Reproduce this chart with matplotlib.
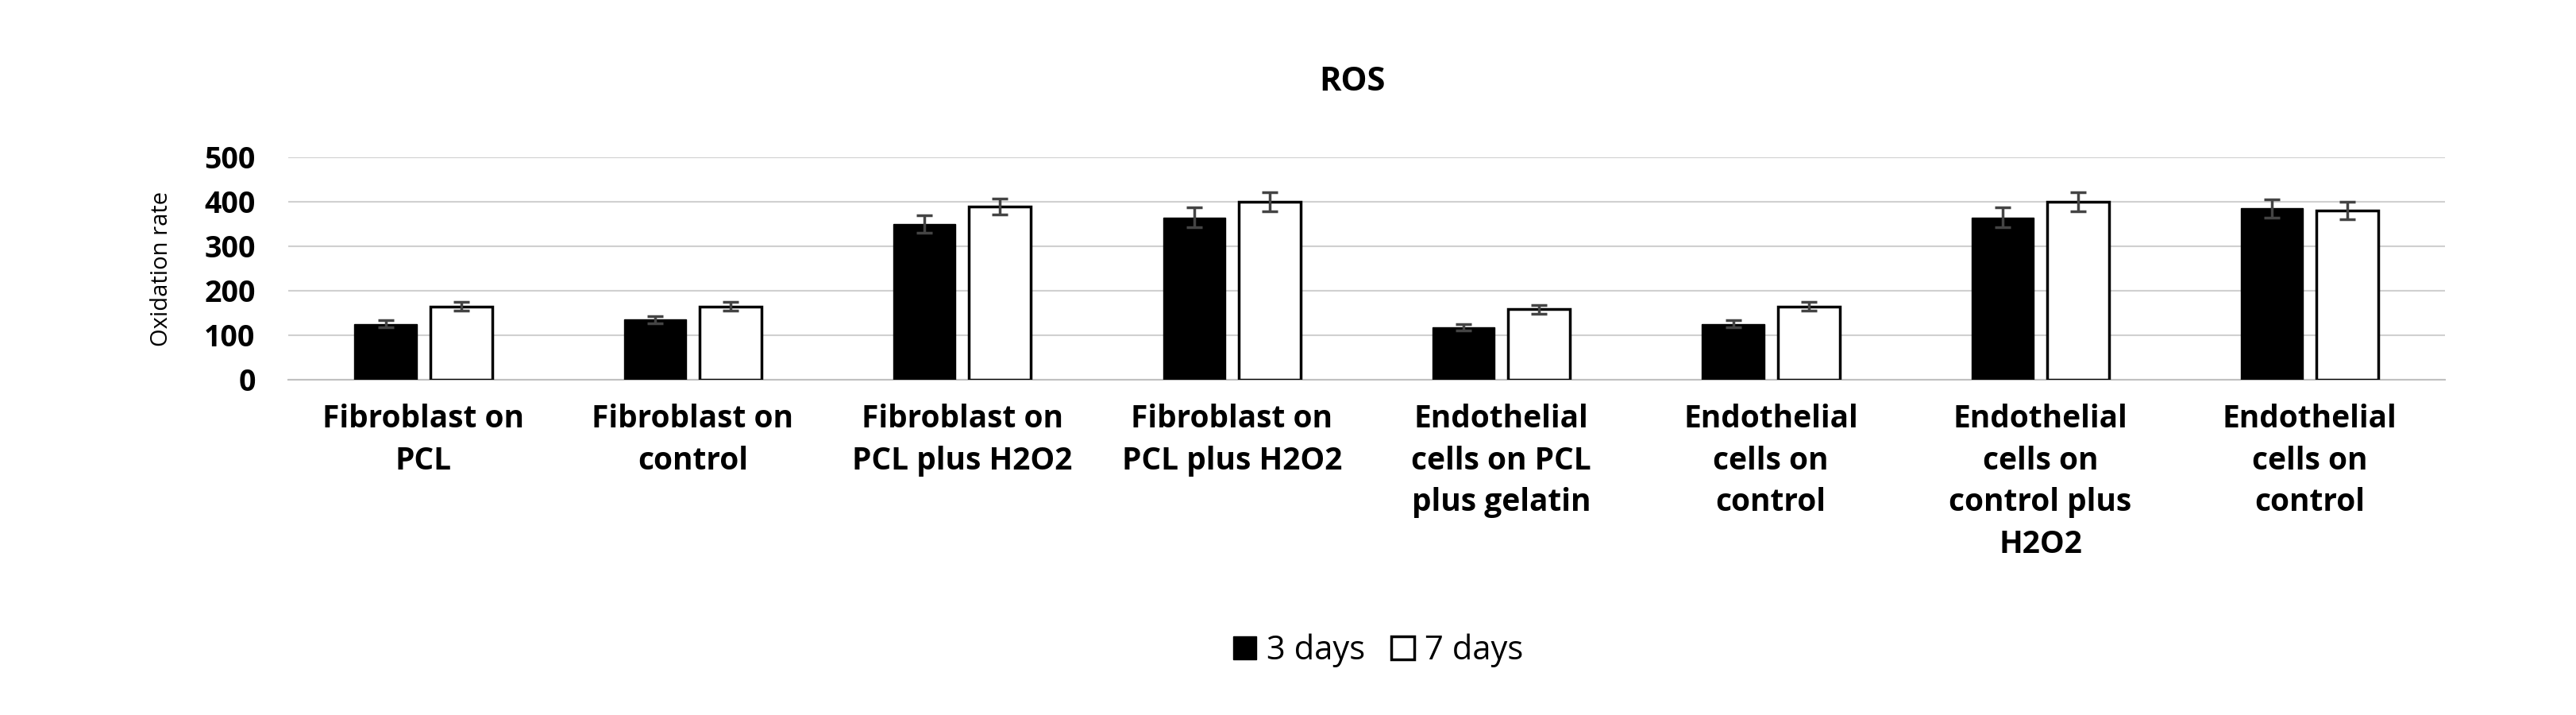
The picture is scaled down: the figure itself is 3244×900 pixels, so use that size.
import matplotlib
matplotlib.use("Agg")
import matplotlib.pyplot as plt
import numpy as np

categories = ["Fibroblast on\nPCL", "Fibroblast on\ncontrol", "Fibroblast on\nPCL plus H2O2", "Fibroblast on\nPCL plus H2O2",
              "Endothelial\ncells on PCL\nplus gelatin", "Endothelial\ncells on\ncontrol", "Endothelial\ncells on\ncontrol plus\nH2O2", "Endothelial\ncells on\ncontrol"]
days3 = [125, 135, 350, 365, 118, 125, 365, 385]
days7 = [165, 165, 390, 400, 158, 165, 400, 380]
err3 = [8, 8, 20, 22, 7, 8, 22, 20]
err7 = [10, 10, 18, 22, 10, 10, 22, 20]
yticks = [0, 100, 200, 300, 400, 500]

plt.rcParams['font.family'] = ['Open Sans', 'DejaVu Sans']
fig = plt.figure(figsize=(32.44, 9), dpi=100)
ax = fig.add_axes([0.112, 0.469, 0.837, 0.311])
x = np.arange(len(categories))
w = 0.23
ax.bar(x - 0.14, days3, w, color='black', edgecolor='black', yerr=err3,
       error_kw=dict(ecolor='#444444', capsize=7, elinewidth=2.5, capthick=2.5), label='3 days', zorder=3)
ax.bar(x + 0.14, days7, w, color='white', edgecolor='black', linewidth=2.5, yerr=err7,
       error_kw=dict(ecolor='#444444', capsize=7, elinewidth=2.5, capthick=2.5), label='7 days', zorder=3)
ax.set_xlim(-0.5, len(categories) - 0.5)
ax.set_ylim(0, 500)
ax.set_yticks(yticks)
ax.set_yticklabels([str(t) for t in yticks], fontsize=27, fontweight='bold')
ax.set_xticks(x)
ax.set_xticklabels(categories, fontsize=28, fontweight='bold', va='top', linespacing=1.45)
ax.tick_params(axis='x', length=0, pad=22)
ax.tick_params(axis='y', length=0, pad=30)
ax.grid(axis='y', color='#d0d0d0', linewidth=1.5, zorder=0)
for s in ['top', 'right', 'left']:
    ax.spines[s].set_visible(False)
ax.spines['bottom'].set_color('#c0c0c0')
ax.spines['bottom'].set_linewidth(1.5)
ax.set_ylabel('Oxidation rate', fontsize=21, labelpad=28)
fig.text(0.525, 0.885, 'ROS', ha='center', va='center', fontsize=30, fontweight='bold')
fig.legend(loc='center', bbox_to_anchor=(0.535, 0.09), ncol=2, frameon=False,
           fontsize=30, handlelength=0.7, handleheight=0.7, columnspacing=0.8, handletextpad=0.3)
fig.savefig('out.png', dpi=100, facecolor='white')
